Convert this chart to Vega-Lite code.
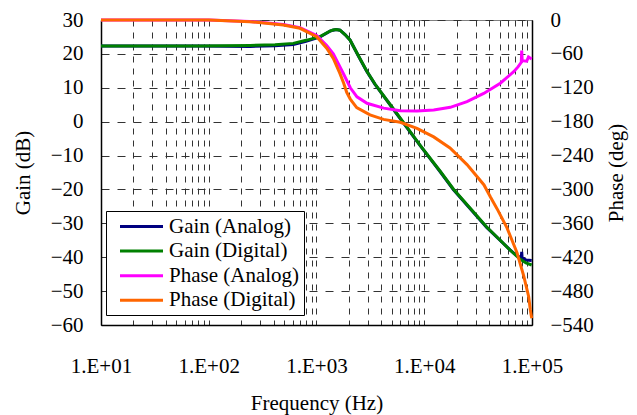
{
  "$schema": "https://vega.github.io/schema/vega-lite/v6.json",
  "width": 431,
  "height": 305,
  "autosize": "none",
  "padding": {"left": 101, "top": 20, "right": 105, "bottom": 90},
  "background": "white",
  "config": {
    "font": "Liberation Serif",
    "view": {"stroke": "#808080", "strokeWidth": 1},
    "axis": {
      "labelFont": "Liberation Serif",
      "titleFont": "Liberation Serif",
      "labelFontSize": 21,
      "titleFontSize": 21,
      "titleFontWeight": "normal",
      "labelColor": "black",
      "titleColor": "black",
      "domainColor": "black",
      "domainWidth": 1.5,
      "ticks": false,
      "tickSize": 0
    }
  },
  "data": {
    "values": [
      {"series": "Gain (Analog)", "f": 10, "v": 22.3},
      {"series": "Gain (Analog)", "f": 28.5, "v": 22.3},
      {"series": "Gain (Analog)", "f": 83, "v": 22.3},
      {"series": "Gain (Analog)", "f": 241, "v": 22.2},
      {"series": "Gain (Analog)", "f": 412, "v": 22.4},
      {"series": "Gain (Analog)", "f": 609, "v": 22.8},
      {"series": "Gain (Analog)", "f": 799, "v": 23.7},
      {"series": "Gain (Analog)", "f": 1078, "v": 25.0},
      {"series": "Gain (Analog)", "f": 1335, "v": 26.7},
      {"series": "Gain (Analog)", "f": 1423, "v": 27.0},
      {"series": "Gain (Analog)", "f": 1520, "v": 27.2},
      {"series": "Gain (Analog)", "f": 1652, "v": 27.0},
      {"series": "Gain (Analog)", "f": 1839, "v": 25.7},
      {"series": "Gain (Analog)", "f": 2046, "v": 24.1},
      {"series": "Gain (Analog)", "f": 2428, "v": 19.6},
      {"series": "Gain (Analog)", "f": 2923, "v": 14.9},
      {"series": "Gain (Analog)", "f": 3491, "v": 11.0},
      {"series": "Gain (Analog)", "f": 4143, "v": 7.8},
      {"series": "Gain (Analog)", "f": 5351, "v": 3.0},
      {"series": "Gain (Analog)", "f": 6873, "v": -1.7},
      {"series": "Gain (Analog)", "f": 9132, "v": -7.0},
      {"series": "Gain (Analog)", "f": 12059, "v": -12.0},
      {"series": "Gain (Analog)", "f": 14005, "v": -14.7},
      {"series": "Gain (Analog)", "f": 18606, "v": -20.0},
      {"series": "Gain (Analog)", "f": 26580, "v": -25.6},
      {"series": "Gain (Analog)", "f": 37970, "v": -31.2},
      {"series": "Gain (Analog)", "f": 50470, "v": -35.0},
      {"series": "Gain (Analog)", "f": 62500, "v": -37.8},
      {"series": "Gain (Analog)", "f": 72000, "v": -39.5},
      {"series": "Gain (Analog)", "f": 79500, "v": -40.2},
      {"series": "Gain (Analog)", "f": 80260, "v": -38.4},
      {"series": "Gain (Analog)", "f": 81000, "v": -40.3},
      {"series": "Gain (Analog)", "f": 87970, "v": -40.8},
      {"series": "Gain (Analog)", "f": 99360, "v": -41.0},

      {"series": "Gain (Digital)", "f": 10, "v": 22.3},
      {"series": "Gain (Digital)", "f": 28.5, "v": 22.3},
      {"series": "Gain (Digital)", "f": 83, "v": 22.35},
      {"series": "Gain (Digital)", "f": 241, "v": 22.5},
      {"series": "Gain (Digital)", "f": 412, "v": 22.7},
      {"series": "Gain (Digital)", "f": 609, "v": 23.1},
      {"series": "Gain (Digital)", "f": 799, "v": 24.0},
      {"series": "Gain (Digital)", "f": 1078, "v": 25.1},
      {"series": "Gain (Digital)", "f": 1335, "v": 26.75},
      {"series": "Gain (Digital)", "f": 1423, "v": 27.05},
      {"series": "Gain (Digital)", "f": 1520, "v": 27.2},
      {"series": "Gain (Digital)", "f": 1652, "v": 27.0},
      {"series": "Gain (Digital)", "f": 1839, "v": 25.7},
      {"series": "Gain (Digital)", "f": 2046, "v": 24.1},
      {"series": "Gain (Digital)", "f": 2428, "v": 19.67},
      {"series": "Gain (Digital)", "f": 2923, "v": 14.95},
      {"series": "Gain (Digital)", "f": 3491, "v": 11.11},
      {"series": "Gain (Digital)", "f": 4143, "v": 7.87},
      {"series": "Gain (Digital)", "f": 5351, "v": 3.15},
      {"series": "Gain (Digital)", "f": 6873, "v": -1.57},
      {"series": "Gain (Digital)", "f": 9132, "v": -6.89},
      {"series": "Gain (Digital)", "f": 12059, "v": -11.9},
      {"series": "Gain (Digital)", "f": 14005, "v": -14.56},
      {"series": "Gain (Digital)", "f": 18606, "v": -19.87},
      {"series": "Gain (Digital)", "f": 26580, "v": -25.47},
      {"series": "Gain (Digital)", "f": 37970, "v": -31.08},
      {"series": "Gain (Digital)", "f": 50470, "v": -34.92},
      {"series": "Gain (Digital)", "f": 62500, "v": -37.87},
      {"series": "Gain (Digital)", "f": 77360, "v": -40.53},
      {"series": "Gain (Digital)", "f": 87970, "v": -41.7},
      {"series": "Gain (Digital)", "f": 99360, "v": -42.3},

      {"series": "Phase (Analog)", "f": 10, "v": 0},
      {"series": "Phase (Analog)", "f": 100, "v": 0},
      {"series": "Phase (Analog)", "f": 241, "v": -2.5},
      {"series": "Phase (Analog)", "f": 492, "v": -8},
      {"series": "Phase (Analog)", "f": 703, "v": -13.5},
      {"series": "Phase (Analog)", "f": 1004, "v": -27.5},
      {"series": "Phase (Analog)", "f": 1244, "v": -45},
      {"series": "Phase (Analog)", "f": 1432, "v": -60},
      {"series": "Phase (Analog)", "f": 1652, "v": -83},
      {"series": "Phase (Analog)", "f": 1788, "v": -96},
      {"series": "Phase (Analog)", "f": 2059, "v": -120},
      {"series": "Phase (Analog)", "f": 2376, "v": -136},
      {"series": "Phase (Analog)", "f": 2943, "v": -147.5},
      {"series": "Phase (Analog)", "f": 4205, "v": -156},
      {"series": "Phase (Analog)", "f": 5994, "v": -160.5},
      {"series": "Phase (Analog)", "f": 8564, "v": -161},
      {"series": "Phase (Analog)", "f": 12240, "v": -159.5},
      {"series": "Phase (Analog)", "f": 17450, "v": -154.6},
      {"series": "Phase (Analog)", "f": 24930, "v": -144.6},
      {"series": "Phase (Analog)", "f": 35620, "v": -130},
      {"series": "Phase (Analog)", "f": 50790, "v": -112},
      {"series": "Phase (Analog)", "f": 67650, "v": -91.5},
      {"series": "Phase (Analog)", "f": 74130, "v": -83},
      {"series": "Phase (Analog)", "f": 79570, "v": -75},
      {"series": "Phase (Analog)", "f": 80260, "v": -54},
      {"series": "Phase (Analog)", "f": 81100, "v": -72},
      {"series": "Phase (Analog)", "f": 89290, "v": -73},
      {"series": "Phase (Analog)", "f": 92800, "v": -65.5},
      {"series": "Phase (Analog)", "f": 99360, "v": -69},

      {"series": "Phase (Digital)", "f": 10, "v": 0},
      {"series": "Phase (Digital)", "f": 100, "v": 0},
      {"series": "Phase (Digital)", "f": 241, "v": -3},
      {"series": "Phase (Digital)", "f": 492, "v": -8.9},
      {"series": "Phase (Digital)", "f": 703, "v": -14.7},
      {"series": "Phase (Digital)", "f": 1004, "v": -29.6},
      {"series": "Phase (Digital)", "f": 1244, "v": -50},
      {"series": "Phase (Digital)", "f": 1432, "v": -68},
      {"series": "Phase (Digital)", "f": 1652, "v": -95},
      {"series": "Phase (Digital)", "f": 1788, "v": -112},
      {"series": "Phase (Digital)", "f": 1907, "v": -128},
      {"series": "Phase (Digital)", "f": 2059, "v": -140},
      {"series": "Phase (Digital)", "f": 2361, "v": -155},
      {"series": "Phase (Digital)", "f": 3137, "v": -168},
      {"series": "Phase (Digital)", "f": 4186, "v": -176},
      {"series": "Phase (Digital)", "f": 5994, "v": -181},
      {"series": "Phase (Digital)", "f": 8564, "v": -192},
      {"series": "Phase (Digital)", "f": 12240, "v": -207},
      {"series": "Phase (Digital)", "f": 17340, "v": -226.6},
      {"series": "Phase (Digital)", "f": 24930, "v": -256},
      {"series": "Phase (Digital)", "f": 35850, "v": -292},
      {"series": "Phase (Digital)", "f": 41020, "v": -313},
      {"series": "Phase (Digital)", "f": 47330, "v": -334},
      {"series": "Phase (Digital)", "f": 58610, "v": -368},
      {"series": "Phase (Digital)", "f": 72580, "v": -412},
      {"series": "Phase (Digital)", "f": 83750, "v": -453},
      {"series": "Phase (Digital)", "f": 93200, "v": -490},
      {"series": "Phase (Digital)", "f": 96430, "v": -513},
      {"series": "Phase (Digital)", "f": 99360, "v": -528}
    ]
  },
  "encoding": {
    "x": {
      "field": "f",
      "type": "quantitative",
      "scale": {"type": "log", "domain": [10, 100000], "nice": false},
      "axis": {
        "title": "Frequency (Hz)",
        "values": [10,20,30,40,50,60,70,80,90,100,200,300,400,500,600,700,800,900,1000,2000,3000,4000,5000,6000,7000,8000,9000,10000,20000,30000,40000,50000,60000,70000,80000,90000,100000],
        "labelExpr": "indexof([10,100,1000,10000,100000], datum.value) >= 0 ? '1.E+0' + format(log(datum.value)/LN10, '.0f') : ''",
        "labelFlush": false,
        "labelOverlap": false,
        "labelBound": false,
        "labelPadding": 30,
        "titlePadding": 16,
        "grid": true,
        "gridDash": [6, 6],
        "gridColor": "#333333",
        "gridWidth": 1
      }
    },
    "color": {
      "field": "series",
      "type": "nominal",
      "scale": {
        "domain": ["Gain (Analog)", "Gain (Digital)", "Phase (Analog)", "Phase (Digital)"],
        "range": ["#000080", "#008000", "#FF00FF", "#FF6600"]
      },
      "legend": {
        "title": null,
        "orient": "none",
        "legendX": 5,
        "legendY": 191,
        "direction": "vertical",
        "symbolType": "M-2.15,0H2.15",
        "symbolSize": 400,
        "symbolStrokeWidth": 3,
        "symbolOffset": 20,
        "labelFontSize": 21,
        "labelFont": "Liberation Serif",
        "labelColor": "black",
        "labelOffset": 16,
        "strokeColor": "black",
        "fillColor": "white",
        "padding": 4,
        "rowPadding": 2.6
      }
    }
  },
  "layer": [
    {
      "encoding": {
        "y": {
          "field": "v",
          "type": "quantitative",
          "scale": {"domain": [-60, 30], "nice": false, "zero": false},
          "axis": {
            "title": "Gain (dB)",
            "orient": "left",
            "values": [-60,-50,-40,-30,-20,-10,0,10,20,30],
            "labelPadding": 18,
            "titlePadding": 17,
            "grid": true,
            "gridDash": [8, 8],
            "gridColor": "#333333",
            "gridWidth": 1
          }
        }
      },
      "layer": [
        {"transform": [{"filter": "datum.series == 'Gain (Analog)'"}], "mark": {"type": "line", "strokeWidth": 3}, "encoding": {}},
        {"transform": [{"filter": "datum.series == 'Gain (Digital)'"}], "mark": {"type": "line", "strokeWidth": 3}, "encoding": {}}
      ]
    },
    {
      "encoding": {
        "y": {
          "field": "v",
          "type": "quantitative",
          "scale": {"domain": [-540, 0], "nice": false, "zero": false},
          "axis": {
            "title": "Phase (deg)",
            "orient": "right",
            "values": [-540,-480,-420,-360,-300,-240,-180,-120,-60,0],
            "labelPadding": 18,
            "titlePadding": 12,
            "titleAngle": -90,
            "titleBaseline": "top",
            "grid": false
          }
        }
      },
      "layer": [
        {"transform": [{"filter": "datum.series == 'Phase (Analog)'"}], "mark": {"type": "line", "strokeWidth": 3}, "encoding": {}},
        {"transform": [{"filter": "datum.series == 'Phase (Digital)'"}], "mark": {"type": "line", "strokeWidth": 3}, "encoding": {}}
      ]
    }
  ],
  "resolve": {"scale": {"y": "independent"}}
}
